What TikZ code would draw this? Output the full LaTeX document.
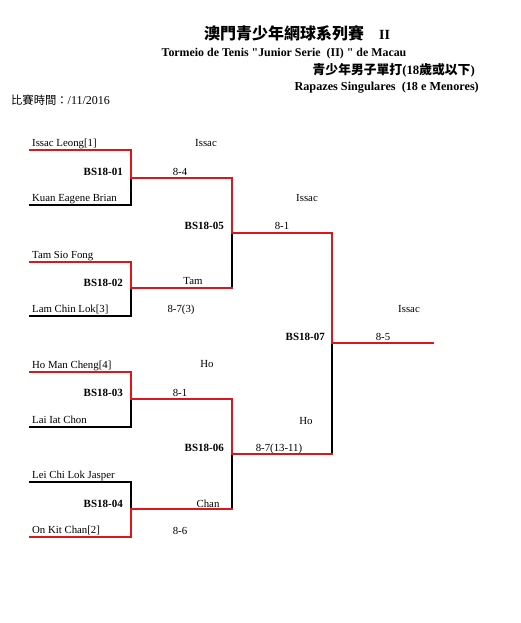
\documentclass[tikz,border=0pt]{standalone}
\usepackage{fontspec}
\setmainfont[Ligatures=TeXOff]{Liberation Serif}
\newfontfamily\cjk{Noto Sans CJK TC}
\definecolor{wred}{RGB}{222,22,28}
\begin{document}
\begin{tikzpicture}[x=1pt,y=-1pt,
  win/.style={draw=wred,line width=2pt,line cap=rect},
  lose/.style={draw=black,line width=2pt,line cap=rect},
  nm/.style={anchor=base west,inner sep=0pt,font=\fontsize{10.8}{12}\selectfont},
  mid/.style={anchor=base,inner sep=0pt,font=\fontsize{10.8}{12}\selectfont},
  code/.style={anchor=base east,inner sep=0pt,font=\bfseries\fontsize{11}{12}\selectfont}]
\useasboundingbox (0,0) rectangle (520,623);

% header
\node[anchor=base,inner sep=0pt,font=\cjk\bfseries\fontsize{16}{18}\selectfont] (title) at (284,40) {澳門青少年網球系列賽};
\node[anchor=base west,inner sep=0pt,font=\bfseries\fontsize{14}{16}\selectfont] (roman) at (379,40) {II};
\node[anchor=base,inner sep=0pt,font=\bfseries\fontsize{11.9}{13}\selectfont] (tormeio) at (284,57) {Tormeio de Tenis "Junior Serie~~(II) " de Macau};
\node[anchor=base east,inner sep=0pt,font=\bfseries\fontsize{12.8}{14}\selectfont] (sub) at (475,75) {{\cjk\bfseries 青少年男子單打}(18{\cjk\bfseries 歲或以下})};
\node[anchor=base east,inner sep=0pt,font=\bfseries\fontsize{12.2}{14}\selectfont] (rap) at (479,91) {Rapazes Singulares~~(18 e Menores)};
\node[anchor=base west,inner sep=0pt,font=\fontsize{12}{13}\selectfont] (date) at (11,105) {{\cjk\fontsize{11.3}{13}\selectfont 比賽時間：}/11/2016};

% bracket coordinates
\coordinate (p1t) at (30,150); \coordinate (m1) at (130.5,178); \coordinate (p1b) at (30,205);
\coordinate (p2t) at (30,262); \coordinate (m2) at (130.5,288); \coordinate (p2b) at (30,316);
\coordinate (p3t) at (30,372); \coordinate (m3) at (130.5,399); \coordinate (p3b) at (30,427);
\coordinate (p4t) at (30,482); \coordinate (m4) at (130.5,509); \coordinate (p4b) at (30,537);
\coordinate (m5) at (231.5,233); \coordinate (m6) at (231.5,454);
\coordinate (m7) at (331.5,343); \coordinate (champ) at (433,343);

% losing paths first
\draw[lose] (p1b) -| (m1);
\draw[lose] (p2b) -| (m2);
\draw[lose] (m2 -| m5) -- (m5);
\draw[lose] (p3b) -| (m3);
\draw[lose] (p4t) -| (m4);
\draw[lose] (m4 -| m6) -- (m6);
\draw[lose] (m6 -| m7) -- (m7);
% winning paths
\draw[win] (p1t) -| (m1);
\draw[win] (m1) -| (m5);
\draw[win] (p2t) -| (m2);
\draw[win] (m2) -- (m2 -| m5);
\draw[win] (m5) -| (m7);
\draw[win] (p3t) -| (m3);
\draw[win] (m3) -| (m6);
\draw[win] (p4b) -| (m4);
\draw[win] (m4) -- (m4 -| m6);
\draw[win] (m6) -- (m6 -| m7);
\draw[win] (m7) -- (champ);

% player names
\node[nm] (n1) at (32,146.5) {Issac Leong[1]};
\node[nm] (n2) at (32,201.5) {Kuan Eagene Brian};
\node[nm] (n3) at (32,258.5) {Tam Sio Fong};
\node[nm] (n4) at (32,312.5) {Lam Chin Lok[3]};
\node[nm] (n5) at (32,368.5) {Ho Man Cheng[4]};
\node[nm] (n6) at (32,423.5) {Lai Iat Chon};
\node[nm] (n7) at (32,478.5) {Lei Chi Lok Jasper};
\node[nm] (n8) at (32,533.5) {On Kit Chan[2]};

% match codes
\node[code] (c1) at (123,175) {BS18-01};
\node[code] (c2) at (123,286) {BS18-02};
\node[code] (c3) at (123,396) {BS18-03};
\node[code] (c4) at (123,507) {BS18-04};
\node[code] (c5) at (224,229.5) {BS18-05};
\node[code] (c6) at (224,451) {BS18-06};
\node[code] (c7) at (325,340.5) {BS18-07};

% winners and scores
\node[mid] (w1) at (206,146.5) {Issac};
\node[mid] (s1) at (180,175.5) {8-4};
\node[mid] (w2) at (193,284.5) {Tam};
\node[mid] (s2) at (181,312.5) {8-7(3)};
\node[mid] (w3) at (207,367.5) {Ho};
\node[mid] (s3) at (180,396) {8-1};
\node[mid] (w4) at (208,507) {Chan};
\node[mid] (s4) at (180,534) {8-6};
\node[mid] (w5) at (307,201.5) {Issac};
\node[mid] (s5) at (282,229.5) {8-1};
\node[mid] (w6) at (306,424) {Ho};
\node[mid] (s6) at (279,451) {8-7(13-11)};
\node[mid] (w7) at (409,312) {Issac};
\node[mid] (s7) at (383,340.5) {8-5};
\end{tikzpicture}
\end{document}
